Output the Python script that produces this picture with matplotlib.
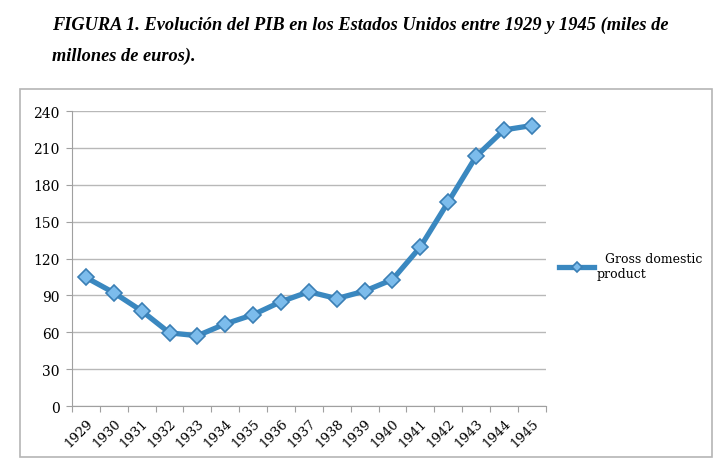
import matplotlib.pyplot as plt
from matplotlib.patches import Rectangle

# Data (GDP, miles de millones)
years = [str(y) for y in range(1929, 1946)]
gdp = [104.6, 92.2, 77.4, 59.5, 57.2, 66.8, 74.3, 84.9, 93.0,
       87.4, 93.5, 102.9, 129.4, 166.0, 203.1, 224.6, 228.2]
yticks = [0, 30, 60, 90, 120, 150, 180, 210, 240]
series_name = "Gross domestic\nproduct"
title_1 = "FIGURA 1. Evolución del PIB en los Estados Unidos entre 1929 y 1945 (miles de"
title_2 = "millones de euros)."

fig = plt.figure(figsize=(7.2, 4.64), dpi=100)
ax = fig.add_axes([0.1, 0.1228, 0.658, 0.6358])

# title, Times-like bold italic
fig.text(52 / 720, 1 - 30 / 464, title_1, family="Liberation Serif",
         weight="bold", style="italic", fontsize=13.2, va="baseline")
fig.text(52 / 720, 1 - 61 / 464, title_2, family="Liberation Serif",
         weight="bold", style="italic", fontsize=13.2, va="baseline")

# chart frame
fig.patches.append(Rectangle((20 / 720, 1 - 458 / 464), 692 / 720, 368 / 464,
                             transform=fig.transFigure, fill=False,
                             edgecolor="#b5b5b5", linewidth=1.2))

x = list(range(len(years)))
ax.plot(x, gdp, color="#3a88c0", linewidth=3.8, marker="D", markersize=8.5,
        markerfacecolor="#7cbcec", markeredgecolor="#3a7fb5",
        markeredgewidth=1.2, label="  " + series_name,
        solid_joinstyle="round")

ax.set_xlim(-0.5, len(years) - 0.5)
ax.set_ylim(0, 240)
ax.set_yticks(yticks)
ax.yaxis.grid(True, color="#b8b8b8", linewidth=1)
ax.set_axisbelow(True)

# ticks between categories, labels at category centres
ax.set_xticks([i - 0.5 for i in range(len(years) + 1)])
ax.set_xticklabels([])
ax.set_xticks(x, minor=True)
ax.set_xticklabels(years, minor=True, rotation=45, ha="right",
                   rotation_mode="anchor", family="DejaVu Serif", fontsize=9.5)
ax.tick_params(axis="x", which="minor", length=0, pad=7)
ax.tick_params(axis="x", which="major", length=4, color="#a0a0a0")
ax.tick_params(axis="y", length=4, color="#a0a0a0", pad=5)
for lab in ax.get_yticklabels():
    lab.set_family("DejaVu Serif")
    lab.set_fontsize(10)

for s in ["top", "right"]:
    ax.spines[s].set_visible(False)
for s in ["left", "bottom"]:
    ax.spines[s].set_color("#a0a0a0")

leg = ax.legend(loc="center left", bbox_to_anchor=(1.01, 0.475), frameon=False,
                prop={"family": "DejaVu Serif", "size": 9},
                handlelength=2.8, handletextpad=0.2, markerscale=0.6,
                borderaxespad=0.3)

fig.savefig("out.png", dpi=100, facecolor="white")
